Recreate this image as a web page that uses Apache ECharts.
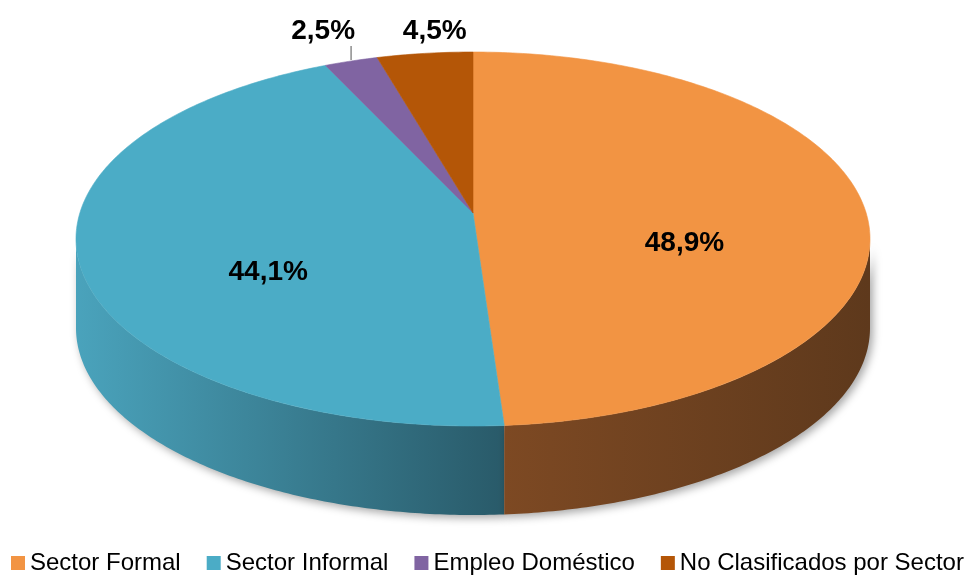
<!DOCTYPE html>
<html>
<head>
<meta charset="utf-8">
<script src="https://cdn.jsdelivr.net/npm/echarts@6/dist/echarts.min.js"></script>
<style>
html, body { margin: 0; padding: 0; background: #fff; }
#chart { width: 967px; height: 577px; }
</style>
</head>
<body>
<div id="chart"></div>
<script>
var categories = ['Sector Formal', 'Sector Informal', 'Empleo Doméstico', 'No Clasificados por Sector'];
var values = [48.9, 44.1, 2.5, 4.5];
var labels = ['48,9%', '44,1%', '2,5%', '4,5%'];

var topColors = ['#F29443', '#4BACC6', '#8064A2', '#B45607'];
var sideColors = [['#7D4923', '#5E391C'], ['#4AA3BC', '#295A69'], ['#5E4A7A', '#4A3A60'], ['#874106', '#6A3305']];

// geometrie du camembert 3D (ellipse du dessus + epaisseur)
var cx = 473, cy = 239, rx = 397, ry = 187, depth = 89;
var apexY = 213; // sommet des parts (perspective)
var labelDy = 8;

var total = values.reduce(function (a, b) { return a + b; }, 0);
var startFrac = [];
var acc = 0;
values.forEach(function (v) {
    startFrac.push(acc / total);
    acc += v;
});

// angle sur l'ellipse du point de bord pour une fraction f
function rimAngle(f) {
    var t = -Math.PI / 2 + 2 * Math.PI * f;
    var ax = 0, ay = (apexY - cy) / ry;
    var dx = Math.cos(t), dy = Math.sin(t);
    var p = ax * dx + ay * dy;
    var s = -p + Math.sqrt(p * p - (ax * ax + ay * ay) + 1);
    var u = ax + s * dx, v = ay + s * dy;
    var phi = Math.atan2(v, u);
    while (phi < t - Math.PI) phi += 2 * Math.PI;
    while (phi > t + Math.PI) phi -= 2 * Math.PI;
    return phi;
}

function ellPoint(phi, off) {
    return [cx + rx * Math.cos(phi), cy + ry * Math.sin(phi) + (off || 0)];
}

function arc(p0, p1, off) {
    var pts = [];
    var n = Math.max(2, Math.ceil(Math.abs(p1 - p0) * 80));
    for (var k = 0; k <= n; k++) {
        pts.push(ellPoint(p0 + (p1 - p0) * k / n, off));
    }
    return pts;
}

function makeRender(i) {
    return function (params, api) {
        var f0 = startFrac[i];
        var f1 = f0 + api.value(0) / total;
        var p0 = rimAngle(f0), p1 = rimAngle(f1);
        var children = [];

        // paroi avant
        var a = Math.max(p0, 0), b = Math.min(p1, Math.PI);
        if (b > a) {
            var pts = arc(a, b, 0).concat(arc(a, b, depth).reverse());
            children.push({
                type: 'polygon',
                z2: 5 - i,
                shape: { points: pts },
                style: {
                    fill: new echarts.graphic.LinearGradient(0, 0, 1, 0, [
                        { offset: 0, color: sideColors[i][0] },
                        { offset: 1, color: sideColors[i][1] }
                    ]),
                    shadowBlur: 8,
                    shadowOffsetX: 3,
                    shadowOffsetY: 3,
                    shadowColor: 'rgba(0,0,0,0.35)'
                }
            });
        }

        // face du dessus
        var face = [[cx, apexY]].concat(arc(p0, p1, 0));
        children.push({
            type: 'polygon',
            z2: 10,
            shape: { points: face },
            style: { fill: topColors[i], stroke: topColors[i], lineWidth: 0.6 }
        });

        // etiquette
        var tm = -Math.PI / 2 + Math.PI * (f0 + f1);
        var font = 'bold 28px "Liberation Sans", Arial, sans-serif';
        if (api.value(0) >= 10) {
            children.push({
                type: 'text',
                z2: 20,
                style: {
                    text: labels[i],
                    x: cx + 0.533 * rx * Math.cos(tm),
                    y: cy + labelDy + 0.533 * ry * Math.sin(tm),
                    textAlign: 'center',
                    textVerticalAlign: 'middle',
                    font: font,
                    fill: '#000'
                }
            });
        } else {
            var anchor = ellPoint(rimAngle((f0 + f1) / 2), 0);
            var withLine = api.value(0) < 3;
            children.push({
                type: 'text',
                z2: 20,
                style: {
                    text: labels[i],
                    x: withLine ? anchor[0] + 4 : anchor[0] + 10,
                    y: 31,
                    textAlign: withLine ? 'right' : 'center',
                    textVerticalAlign: 'middle',
                    font: font,
                    fill: '#000'
                }
            });
            if (withLine) {
                children.push({
                    type: 'line',
                    z2: 20,
                    shape: { x1: anchor[0], y1: 46, x2: anchor[0], y2: anchor[1] - 1 },
                    style: { stroke: '#8C8C8C', lineWidth: 1.5 }
                });
            }
        }
        return { type: 'group', children: children };
    };
}

var series = categories.map(function (name, i) {
    return {
        type: 'custom',
        name: name,
        coordinateSystem: 'none',
        itemStyle: { color: topColors[i] },
        renderItem: makeRender(i),
        data: [values[i]],
        silent: true
    };
});

var myChart = echarts.init(document.getElementById('chart'));
var option = {
    animation: false,
    legend: {
        data: categories,
        left: 11,
        top: 551,
        width: 956,
        padding: 0,
        icon: 'rect',
        itemWidth: 14,
        itemHeight: 14,
        itemGap: 26,
        textStyle: {
            fontFamily: '"Liberation Sans", Arial, sans-serif',
            fontSize: 24,
            color: '#000'
        }
    },
    series: series
};
myChart.setOption(option);
</script>
</body>
</html>
